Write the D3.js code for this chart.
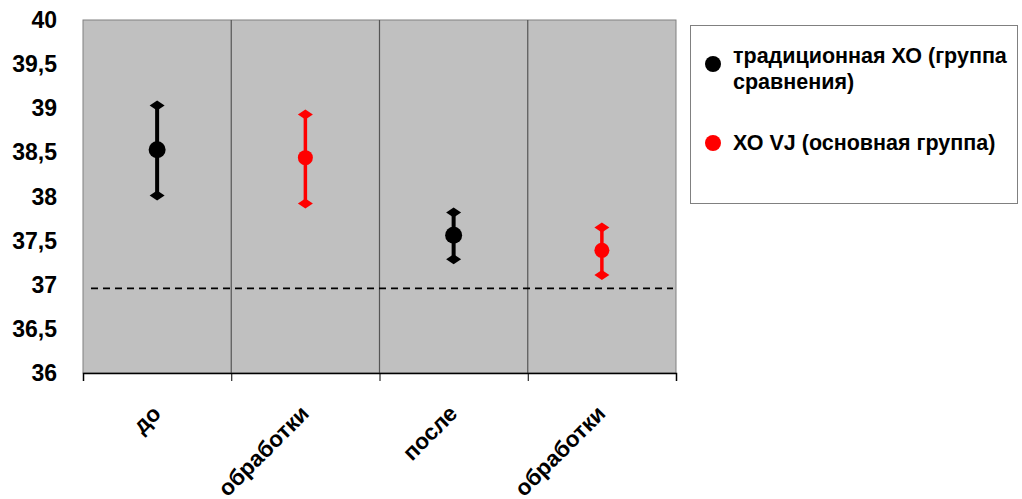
<!DOCTYPE html>
<html>
<head>
<meta charset="utf-8">
<script src="https://cdn.jsdelivr.net/npm/d3@7"></script>
<style>
  body { margin: 0; background: #ffffff; }
  svg { display: block; }
  text { font-family: "Liberation Sans", Arial, sans-serif; font-weight: bold; fill: #000; }
</style>
</head>
<body>
<svg id="chart" width="1022" height="499"></svg>
<script>
// Categories along the x axis
const categories = ["до", "обработки", "после", "обработки"];

// Series names and colours
const seriesNames = ["традиционная ХО (группа сравнения)", "ХО VJ (основная группа)"];
const seriesColors = ["#000000", "#ff0000"];

// One point per category: which series it belongs to, its mean and error range
const pointSeries = [0, 1, 0, 1];
const pointMeans  = [38.53, 38.44, 37.56, 37.39];
const pointLows   = [38.01, 37.92, 37.29, 37.11];
const pointHighs  = [39.03, 38.93, 37.82, 37.65];

// Horizontal reference level (dashed line)
const referenceLevel = 36.96;

// Y axis tick values
const yTicks = [36, 36.5, 37, 37.5, 38, 38.5, 39, 39.5, 40];

const svg = d3.select("#chart");
const plot = { left: 83, right: 676, top: 20, bottom: 373 };

const x = d3.scaleBand()
  .domain(d3.range(categories.length))
  .range([plot.left, plot.right])
  .padding(0);

const y = d3.scaleLinear()
  .domain([36, 40])
  .range([plot.bottom, plot.top]);

// Plot area background
svg.append("rect")
  .attr("x", plot.left).attr("y", plot.top)
  .attr("width", plot.right - plot.left)
  .attr("height", plot.bottom - plot.top)
  .attr("fill", "#c0c0c0")
  .attr("stroke", "#808080")
  .attr("stroke-width", 1);

// Vertical separators between categories
svg.append("g")
  .selectAll("line")
  .data(d3.range(1, categories.length))
  .join("line")
  .attr("x1", d => x(d)).attr("x2", d => x(d))
  .attr("y1", plot.top).attr("y2", plot.bottom)
  .attr("stroke", "#555555")
  .attr("stroke-width", 1.2);

// Dashed reference line
svg.append("line")
  .attr("x1", plot.left + 8).attr("x2", plot.right - 3)
  .attr("y1", y(referenceLevel)).attr("y2", y(referenceLevel))
  .attr("stroke", "#000")
  .attr("stroke-width", 1.8)
  .attr("stroke-dasharray", "7,5");

// Y axis labels
svg.append("g")
  .selectAll("text")
  .data(yTicks)
  .join("text")
  .attr("x", 57)
  .attr("y", d => y(d))
  .attr("dy", "0.35em")
  .attr("text-anchor", "end")
  .attr("font-size", 23)
  .text(d => d3.format(".1~f")(d).replace(".", ","));

// X axis line with ticks at band boundaries
const xAxis = d3.axisBottom(
    d3.scaleLinear().domain([0, categories.length]).range([plot.left, plot.right]))
  .tickValues(d3.range(categories.length + 1))
  .tickSize(8)
  .tickFormat("");
const xg = svg.append("g")
  .attr("transform", `translate(0,${plot.bottom})`)
  .call(xAxis);
xg.select(".domain").attr("stroke", "#000").attr("stroke-width", 1.5);
xg.selectAll(".tick line").attr("stroke", "#000").attr("stroke-width", 1);

// Rotated category labels
svg.append("g")
  .selectAll("text")
  .data(categories)
  .join("text")
  .attr("text-anchor", "end")
  .attr("font-size", 22.5)
  .attr("transform", (d, i) =>
    `translate(${x(i) + x.bandwidth() / 2 + 5},${plot.bottom + 42}) rotate(-45)`)
  .text(d => d);

// Error bars with diamond end caps, then the mean markers
const points = d3.range(pointMeans.length).map(i => ({
  cx: x(i) + x.bandwidth() / 2,
  mean: pointMeans[i], lo: pointLows[i], hi: pointHighs[i],
  color: seriesColors[pointSeries[i]],
  r: pointSeries[i] === 0 ? 8.5 : 7.5,
  w: pointSeries[i] === 0 ? 4 : 3.5
}));

const pg = svg.append("g");
pg.selectAll("line.err")
  .data(points)
  .join("line")
  .attr("class", "err")
  .attr("x1", d => d.cx).attr("x2", d => d.cx)
  .attr("y1", d => y(d.lo)).attr("y2", d => y(d.hi))
  .attr("stroke", d => d.color)
  .attr("stroke-width", d => d.w);

const diamond = "M-7.5,0 L0,-5 L7.5,0 L0,5 Z";
["lo", "hi"].forEach(key => {
  pg.selectAll(`path.cap-${key}`)
    .data(points)
    .join("path")
    .attr("class", `cap-${key}`)
    .attr("d", diamond)
    .attr("transform", d => `translate(${d.cx},${y(d[key])})`)
    .attr("fill", d => d.color);
});

pg.selectAll("circle.mean")
  .data(points)
  .join("circle")
  .attr("class", "mean")
  .attr("cx", d => d.cx)
  .attr("cy", d => y(d.mean))
  .attr("r", d => d.r)
  .attr("fill", d => d.color);

// Legend
const legend = svg.append("g");
legend.append("rect")
  .attr("x", 690.5).attr("y", 25.5)
  .attr("width", 327).attr("height", 178)
  .attr("fill", "#fff")
  .attr("stroke", "#808080")
  .attr("stroke-width", 1);

const legendItems = [
  { lines: ["традиционная ХО (группа", "сравнения)"], color: seriesColors[0], cy: 64, base: 63 },
  { lines: ["ХО VJ (основная группа)"], color: seriesColors[1], cy: 143, base: 150 }
];
legendItems.forEach(item => {
  legend.append("circle")
    .attr("cx", 713).attr("cy", item.cy).attr("r", 8)
    .attr("fill", item.color);
  const t = legend.append("text")
    .attr("x", 733).attr("y", item.base)
    .attr("font-size", 21.5);
  item.lines.forEach((line, j) => {
    t.append("tspan")
      .attr("x", 733)
      .attr("dy", j === 0 ? 0 : 26)
      .text(line);
  });
});
</script>
</body>
</html>
